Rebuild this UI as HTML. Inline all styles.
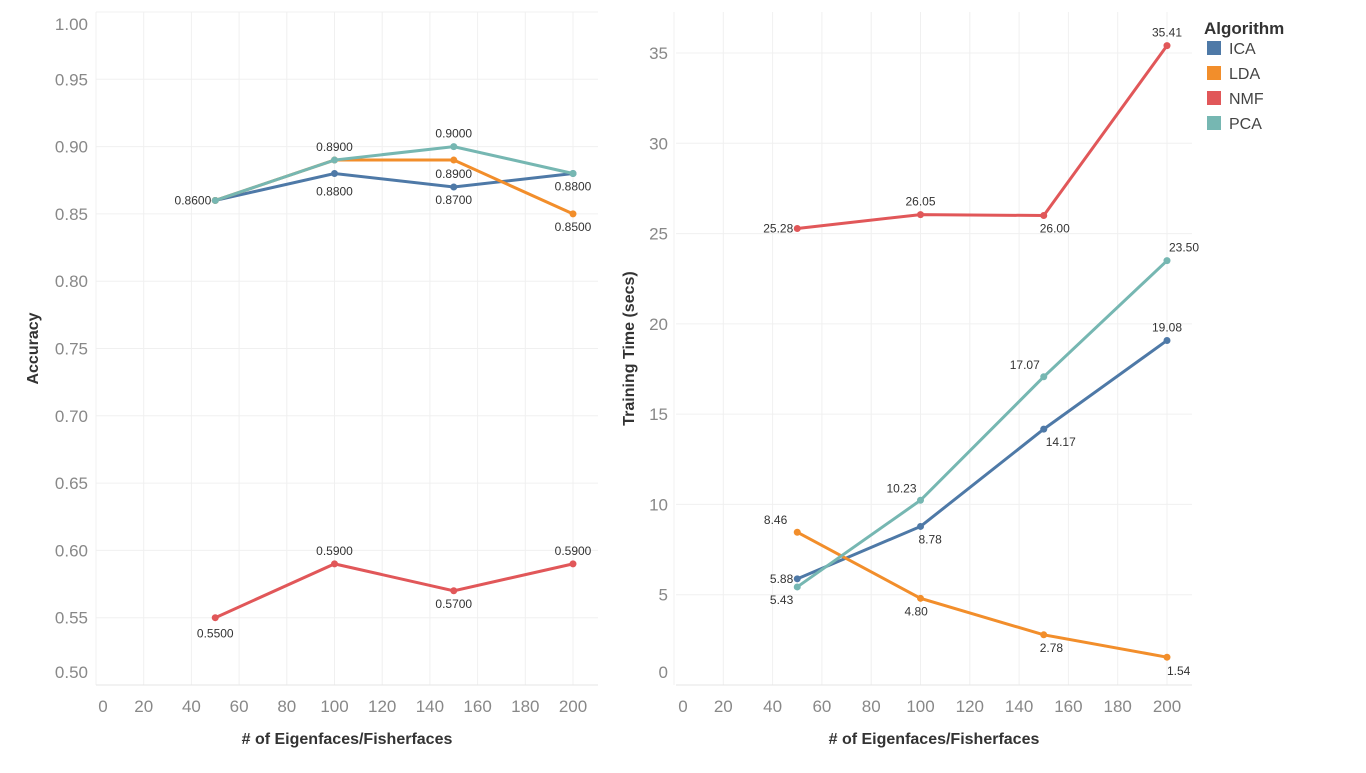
<!DOCTYPE html>
<html><head><meta charset="utf-8"><style>
body{margin:0;background:#fff;font-family:"Liberation Sans",sans-serif}
svg text{font-family:"Liberation Sans",sans-serif}
</style></head><body>
<svg id="c" width="1366" height="768"></svg>
<script>
const xs=[50,100,150,200];
const seriesNames=["ICA","LDA","NMF","PCA"];
const colors=["#4e79a7","#f28e2b","#e15759","#76b7b2"];
const accICA=[0.86,0.88,0.87,0.88];
const accLDA=[0.86,0.89,0.89,0.85];
const accNMF=[0.55,0.59,0.57,0.59];
const accPCA=[0.86,0.89,0.90,0.88];
const timeICA=[5.88,8.78,14.17,19.08];
const timeLDA=[8.46,4.80,2.78,1.54];
const timeNMF=[25.28,26.05,26.00,35.41];
const timePCA=[5.43,10.23,17.07,23.50];
const xTicks=[0,20,40,60,80,100,120,140,160,180,200];
const accTicks=[0.5,0.55,0.6,0.65,0.7,0.75,0.8,0.85,0.9,0.95,1.0];
const timeTicks=[0,5,10,15,20,25,30,35];
const svg=document.getElementById('c');
const NS='http://www.w3.org/2000/svg';
function mk(t,a,p){const e=document.createElementNS(NS,t);for(const k in a)e.setAttribute(k,a[k]);(p||svg).appendChild(e);return e;}
function panel(o){
  const g=mk('g',{});
  
  
  const X=v=>o.x0+v*(o.x1-o.x0)/200;
  const Y=v=>o.y0+(v-o.ymin)*(o.y1-o.y0)/(o.ymax-o.ymin);
  xTicks.forEach(t=>{mk('line',{x1:X(t),x2:X(t),y1:o.top,y2:o.bottom,stroke:'#f0f0f0'},g);
    const tx=mk('text',{x:Math.max(X(t),o.left+7),y:o.bottom+27,'text-anchor':'middle','font-size':17,fill:'#888'},g);tx.textContent=t;});
  o.yt.forEach(t=>{mk('line',{x1:o.left,x2:o.right,y1:Y(t),y2:Y(t),stroke:'#f0f0f0'},g);
    let ly=Y(t); ly=Math.min(ly,o.bottom-13); ly=Math.max(ly,o.top+12);
    const tx=mk('text',{x:o.left-8,y:ly+6,'text-anchor':'end','font-size':17,fill:'#888'},g);tx.textContent=o.fmt(t);});
  mk('line',{x1:o.left,x2:o.right,y1:o.bottom,y2:o.bottom,stroke:'#e6e6e6'},g);
  const xt=mk('text',{x:(o.left+o.right)/2,y:744,'text-anchor':'middle','font-size':16,'font-weight':'bold',fill:'#333'},g);xt.textContent='# of Eigenfaces/Fisherfaces';
  const yt=mk('text',{x:0,y:0,'text-anchor':'middle','font-size':16,'font-weight':'bold',fill:'#333',transform:`translate(${o.ylx},${(o.top+o.bottom)/2}) rotate(-90)`},g);yt.textContent=o.ylab;
  o.series.forEach((s,i)=>{
    const sg=mk('g',{},g);
    
    
    mk('polyline',{points:xs.map((x,j)=>X(x)+','+Y(s[j])).join(' '),fill:'none',stroke:colors[i],'stroke-width':3},sg);
    xs.forEach((x,j)=>{const c=mk('circle',{cx:X(x),cy:Y(s[j]),r:3.5,fill:colors[i]},sg);
      
      const lp=o.lab[i][j]; if(!lp)return;
      const t=mk('text',{x:X(x)+lp[0],y:Y(s[j])+lp[1],'text-anchor':lp[2],'font-size':12,fill:'#333'},sg);t.textContent=o.vf(s[j]);});
  });
}
panel({name:'accuracy-chart',x0:96,x1:573,left:96,right:598,top:12,bottom:685,ymin:0.5,ymax:1.0,y0:685,y1:12,yt:accTicks,
  fmt:t=>t.toFixed(2),vf:v=>v.toFixed(4),ylab:'Accuracy',ylx:38,
  series:[accICA,accLDA,accNMF,accPCA],
  lab:[[null,[0,22,'middle'],[0,17,'middle'],[0,17,'middle']],
       [[-4,4,'end'],null,[0,18,'middle'],[0,17,'middle']],
       [[0,20,'middle'],[0,-9,'middle'],[0,17,'middle'],[0,-9,'middle']],
       [null,[0,-9,'middle'],[0,-9,'middle'],null]]});
panel({name:'training-time-chart',x0:674,x1:1167,left:676,right:1192,top:12,bottom:685,ymin:0,ymax:35,y0:685,y1:53,yt:timeTicks,
  fmt:t=>t,vf:v=>v.toFixed(2),ylab:'Training Time (secs)',ylx:634,
  series:[timeICA,timeLDA,timeNMF,timePCA],
  lab:[[[-4,4,'end'],[-2,17,'start'],[2,17,'start'],[0,-9,'middle']],
       [[-10,-8,'end'],[-16,17,'start'],[-4,17,'start'],[0,18,'start']],
       [[-4,4,'end'],[0,-9,'middle'],[-4,17,'start'],[0,-9,'middle']],
       [[-4,17,'end'],[-4,-8,'end'],[-4,-8,'end'],[2,-9,'start']]]});
const lg=mk('g',{});


const lt=mk('text',{x:1204,y:34,'font-size':17,'font-weight':'bold',fill:'#333'},lg);lt.textContent='Algorithm';
seriesNames.forEach((n,i)=>{const eg=mk('g',{},lg);
  
  
  mk('rect',{x:1207,y:41+i*25,width:14,height:14,fill:colors[i]},eg);
  const t=mk('text',{x:1229,y:54+i*25,'font-size':16,fill:'#444'},eg);t.textContent=n;});
</script>
</body></html>
